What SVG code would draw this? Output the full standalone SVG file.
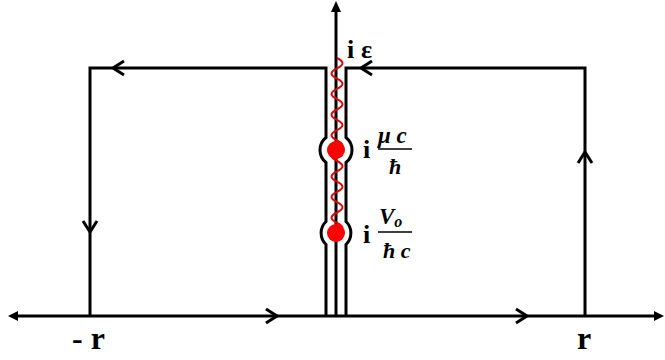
<svg xmlns="http://www.w3.org/2000/svg" width="665" height="360" viewBox="0 0 665 360">
<defs>
<style>
.ln{fill:none;stroke:#000;stroke-width:3}
.chev{fill:none;stroke:#000;stroke-width:3;stroke-linejoin:miter}
.wave{fill:none;stroke:#e00000;stroke-width:2}
.dot{fill:#ff0000}
.lbl{font-family:"Liberation Serif",serif;font-weight:bold;fill:#000}
.it{font-style:italic}
</style>
</defs>
<rect width="665" height="360" fill="#fff"/>
<g id="axes">
<path class="ln" d="M14,316 H659"/>
<path d="M8,316 L18,311 L18,321 Z" fill="#000"/>
<path d="M664,316 L654,311 L654,321 Z" fill="#000"/>
<path class="ln" d="M336,316 V8"/>
<path d="M336,1 L331,12 L341,12 Z" fill="#000"/>
</g>
<g id="connectors">
<path class="ln" d="M326,316 V244.5 A16,16 0 0 1 326,221.5 V162.5 A16,16 0 0 1 326,137.5 V68 H90 V316"/>
<path class="ln" d="M346,316 V244.5 A16,16 0 0 0 346,221.5 V162.5 A16,16 0 0 0 346,137.5 V68 H585 V316"/>
<path class="chev" d="M124,61 L113,68 L124,75"/>
<path class="chev" d="M372,61 L361,68 L372,75"/>
<path class="chev" d="M83,221 L90,232 L97,221"/>
<path class="chev" d="M578,163 L585,152 L592,163"/>
<path class="chev" d="M266,309 L277,316 L266,323"/>
<path class="chev" d="M516,309 L527,316 L516,323"/>
</g>
<g id="branch-cut">
<path class="wave" d="M337,58 q11,5.15 0,10.3 t0,10.3 t0,10.3 t0,10.3 t0,10.3 t0,10.3 t0,10.3 t0,10.3 t0,10.3 t0,10.3 t0,10.3 t0,10.3 t0,10.3 t0,10.3 t0,10.3 t0,10.3 t0,10.3"/>
</g>
<g id="pole1">
<circle class="dot" cx="336" cy="150" r="9"/>
<text class="lbl" x="363" y="158" font-size="26">i</text>
<text class="lbl it" x="378" y="143" font-size="23">μ c</text>
<path d="M378,149 H412" stroke="#000" stroke-width="1.5"/>
<text class="lbl it" x="389" y="174" font-size="22" font-weight="normal">ħ</text>
</g>
<g id="pole2">
<circle class="dot" cx="336" cy="233" r="9"/>
<text class="lbl" x="363" y="243" font-size="26">i</text>
<text class="lbl it" x="379" y="224" font-size="23">V<tspan font-size="16" dy="3">o</tspan></text>
<path d="M378,232 H412" stroke="#000" stroke-width="1.5"/>
<text class="lbl it" x="383" y="258" font-size="22">ħ c</text>
</g>
<g id="top-label">
<text class="lbl" x="347" y="58" font-size="26">i<tspan x="361">ε</tspan></text>
</g>
<g id="ticks">
<text class="lbl" x="72" y="349" font-size="32">- r</text>
<text class="lbl" x="577" y="349" font-size="32">r</text>
</g>
</svg>
